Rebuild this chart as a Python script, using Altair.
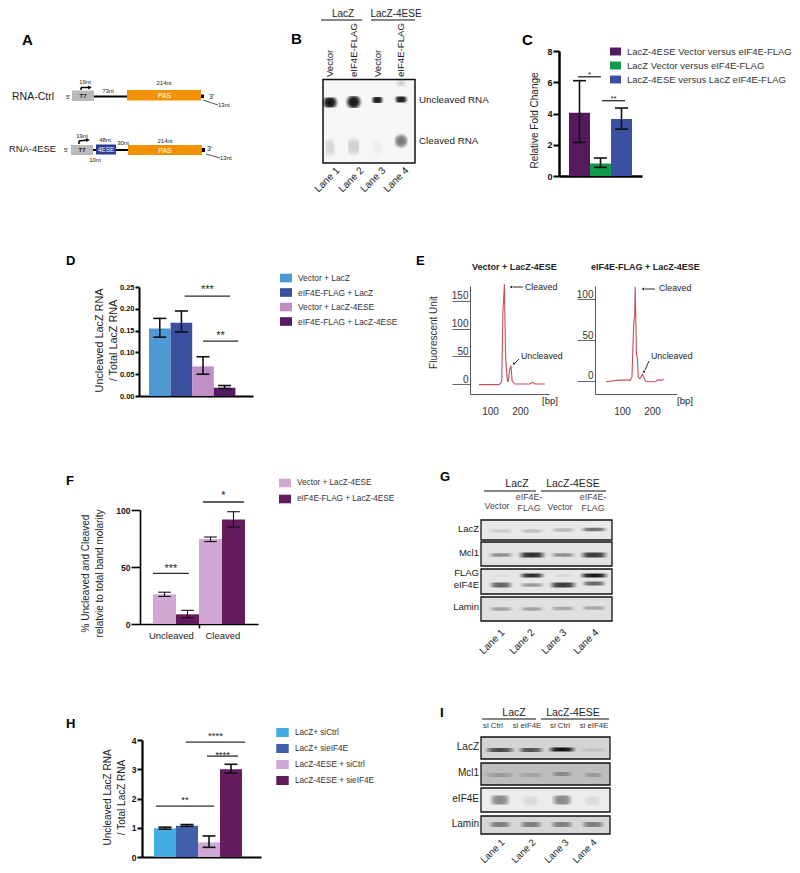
import altair as alt
import pandas as pd

W, H = 784, 857
FONT = "Liberation Sans"

# ---------- data ----------
c_names = ["LacZ-4ESE Vector versus eIF4E-FLAG", "LacZ Vector versus eIF4E-FLAG", "LacZ-4ESE versus LacZ eIF4E-FLAG"]
c_cols = ["#551a5b", "#119a4b", "#3c51a3"]
c_vals = [4.05, 0.8, 3.65]
c_lo = [2.15, 0.55, 3.0]
c_hi = [6.1, 1.15, 4.35]
c_ticks = [0, 2, 4, 6, 8]
c_sig = [(0.43, 1.52, 6.35, "*", 6.59), (1.57, 2.67, 4.82, "**", 5.06)]

d_names = ["Vector + LacZ", "eIF4E-FLAG + LacZ", "Vector + LacZ-4ESE", "eIF4E-FLAG + LacZ-4ESE"]
d_cols = ["#4f9ad4", "#3a4f9e", "#c08fc6", "#541a63"]
d_vals = [0.155, 0.168, 0.068, 0.019]
d_lo = [0.135, 0.147, 0.05, 0.017]
d_hi = [0.178, 0.195, 0.09, 0.024]
d_ticks = [0, 0.05, 0.10, 0.15, 0.20, 0.25]
d_sig = [(1.65, 3.75, 0.229, "***", 0.25), (2.5, 4.13, 0.126, "**", 0.1445)]

f_names = ["Vector + LacZ-4ESE", "eIF4E-FLAG + LacZ-4ESE"]
f_cols = ["#cfa9d4", "#641c5e"]
f_groups = ["a", "b", "a", "b"]
f_vals = [26, 8.5, 74.5, 91.7]
f_lo = [24.2, 5.5, 72.3, 85]
f_hi = [27.9, 12, 76.3, 98.5]
f_ticks = [0, 50, 100]
f_sig = [(0, 1.56, 44.4, "***", 50.9), (2.17, 3.96, 107, "*", 114.9)]
f_cat = ["Uncleaved", "Cleaved"]
f_cat_x = [0.8, 3.04]

h_names = ["LacZ+ siCtrl", "LacZ+ sieIF4E", "LacZ-4ESE + siCtrl", "LacZ-4ESE + sieIF4E"]
h_cols = ["#43ace2", "#4060ac", "#cfa9d4", "#641c5e"]
h_vals = [0.98, 1.07, 0.5, 3.0]
h_lo = [0.95, 1.05, 0.33, 2.87]
h_hi = [1.02, 1.11, 0.72, 3.17]
h_ticks = [0, 1, 2, 3, 4]
h_sig = [(1.45, 4.14, 3.93, "****", 4.24), (2.41, 3.82, 3.45, "****", 3.59), (0.09, 2.73, 1.74, "**", 2.02)]

e1_bp = [63, 130, 139, 141, 143, 148, 150, 152, 153, 158, 161, 165, 170, 174, 183, 233, 242, 250, 283]
e1_fu = [-1, -1, 4, 60, 130, 180, 110, 50, 40, 5, 5, 25, 33, 5, 0, 0, 3, 0, 0]
e2_bp = [47, 89, 128, 133, 139, 142, 144, 148, 151, 154, 159, 163, 168, 178, 189, 211, 217, 233, 239]
e2_fu = [-1, 1, 1, 5, 70, 80, 115, 32, 28, 5, 3, 5, 8, 0, -1, -1, 1, 1, 2]

# gels: lane, migration (distance from the top of the gel), band width, band height, darkness
b_band = [
    (1, 23, 17, 10, 1.0), (2, 22.5, 17, 12, 1.0), (3, 20.5, 13, 6, 0.95), (4, 20, 14, 6, 0.95),
    (1, 68, 9, 20, 0.13), (2, 67, 11, 20, 0.17), (3, 68, 9, 18, 0.04), (4, 61.5, 13, 16, 0.55), (4, 3.5, 11, 7, 0.15),
]
g_lacz = [(1, 11, 26, 3.5, 0.13), (2, 11, 26, 3.5, 0.18), (3, 10, 26, 3.5, 0.22), (4, 9.5, 28, 3.5, 0.55)]
g_mcl1 = [(1, 13, 26, 3.5, 0.4), (2, 13, 29, 5, 0.85), (3, 13, 26, 3.5, 0.4), (4, 13, 29, 5, 0.8)]
g_flag = [(2, 6.5, 27, 4, 0.85), (4, 6.5, 30, 4, 0.95), (1, 6.5, 20, 3, 0.04), (3, 6.5, 20, 3, 0.06),
          (1, 16, 25, 5, 0.6), (2, 16, 26, 3.5, 0.35), (3, 16, 29, 5, 0.8), (4, 14.5, 25, 4, 0.6)]
g_lamin = [(1, 12, 26, 3.5, 0.3), (2, 12, 26, 3.5, 0.3), (3, 11.5, 26, 3.5, 0.28), (4, 11, 26, 3.5, 0.28)]
i_lacz = [(1, 13, 31, 4, 0.7), (2, 13, 27, 4, 0.65), (3, 12.5, 29, 4, 1.0), (4, 13, 28, 3, 0.12)]
i_mcl1 = [(1, 12, 31, 4, 0.2), (2, 12, 28, 4, 0.15), (3, 11, 22, 4, 0.3), (4, 12, 22, 4, 0.2)]
i_eif = [(1, 12, 22, 9, 0.45), (2, 13, 18, 9, 0.08), (3, 12, 22, 9, 0.45), (4, 13, 18, 9, 0.08)]
i_lamin = [(1, 8.5, 24, 5, 0.45), (2, 8.5, 24, 5, 0.45), (3, 8.5, 24, 5, 0.45), (4, 8.5, 24, 5, 0.45)]

# ---------- helpers ----------
def txt(s, x, y, size=9, bold=False, color="#222222", align="left", angle=0):
    return alt.Chart().mark_text(text=s, font=FONT, fontSize=size, color=color, align=align,
                                 baseline="middle", angle=angle,
                                 fontWeight="bold" if bold else "normal").encode(
        x=alt.value(x - 8), y=alt.value(y - 8))

def box(x0, x1, y0, y1, fill, stroke=None, sw=0):
    kw = {"fill": fill}
    if stroke:
        kw.update(stroke=stroke, strokeWidth=sw)
    return alt.Chart().mark_rect(**kw).encode(x=alt.value(x0 - 8), x2=alt.value(x1 - 8),
                                              y=alt.value(y0 - 8), y2=alt.value(y1 - 8))

def seg(x0, y0, x1, y1, sw=1.0, color="#111111"):
    return alt.Chart().mark_rule(strokeWidth=sw, color=color).encode(
        x=alt.value(x0 - 8), x2=alt.value(x1 - 8), y=alt.value(y0 - 8), y2=alt.value(y1 - 8))

def head(x, y, shape="triangle-right", size=14, color="#111111"):
    return alt.Chart().mark_point(shape=shape, filled=True, size=size, color=color, opacity=1).encode(
        x=alt.value(x - 8), y=alt.value(y - 8))

BAND_FILL = {"gradient": "radial", "stops": [
    {"offset": 0, "color": "rgba(10,10,10,1)"},
    {"offset": 0.5, "color": "rgba(10,10,10,0.85)"},
    {"offset": 1, "color": "rgba(10,10,10,0)"}]}

def gel(x0, x1, y0, y1, bg, c1, sp, bands, border=1.3):
    rows = [{"lane0": l - w / 2 / sp, "lane1": l + w / 2 / sp, "m0": m - h / 2, "m1": m + h / 2, "dark": d}
            for l, m, w, h, d in bands]
    sx = alt.Scale(domain=[(x0 - c1) / sp + 1, (x1 - c1) / sp + 1], range=[x0 - 8, x1 - 8], nice=False, zero=False)
    sy = alt.Scale(domain=[0, y1 - y0], range=[y0 - 8, y1 - 8], nice=False, zero=False)
    b = alt.Chart(pd.DataFrame(rows)).mark_rect(fill=BAND_FILL).encode(
        x=alt.X("lane0:Q", scale=sx, axis=None), x2="lane1:Q",
        y=alt.Y("m0:Q", scale=sy, axis=None), y2="m1:Q",
        opacity=alt.Opacity("dark:Q", scale=None, legend=None))
    return [box(x0, x1, y0, y1, bg), b, box(x0, x1, y0, y1, "transparent", "#111111", border)]

LEG_SYM = "M-1,-0.72H1V0.72H-1Z"

def bar_panel(L, R, T, B, ymax, first, bw, names, cols, vals, lo, hi, ticks, fmt, groups=None,
              tick_size=5, label_size=8, dom_w=2.5, title=None, title_dx=-20, title_cy=100, title_size=10,
              cap_px=6.5, err_w=2, sig=(), star_size=10, sig_w=1.3, lx=0, ly=0, leg_size=8.4, row_pad=3,
              sym=12, x_ticks=None, tick_w=2):
    sx = alt.Scale(domain=[(L - first) / bw, (R - first) / bw], range=[L - 8, R - 8], nice=False, zero=False)
    sy = alt.Scale(domain=[0, ymax], range=[B - 8, T - 8], nice=False, zero=False)
    n = len(vals)
    capu = cap_px / bw
    df = pd.DataFrame({
        "k": groups if groups else names, "i0": [i for i in range(n)], "i1": [i + 1 for i in range(n)],
        "c": [i + 0.5 for i in range(n)], "c0": [i + 0.5 - capu for i in range(n)],
        "c1": [i + 0.5 + capu for i in range(n)], "v": vals, "base": [0] * n, "lo": lo, "hi": hi})
    if groups:
        df["k"] = [names[0] if g == "a" else names[1] for g in groups]
    yaxis = alt.Axis(orient="left", offset=-(L - 8), values=ticks, format=fmt, grid=False, tickSize=tick_size,
                     tickWidth=tick_w, tickColor="#000000", domainColor="#000000", domainWidth=dom_w,
                     labelFont=FONT, labelFontSize=label_size, labelFontWeight="bold", labelColor="#111111",
                     labelPadding=1, labelOverlap=False, labelBound=False,
                     title=title, titleFont=FONT, titleFontSize=title_size, titleFontWeight="normal",
                     titleColor="#222222", titleX=title_dx, titleY=title_cy - 8, titleLineHeight=13.5, titleAngle=270)
    xaxis_kw = dict(orient="bottom", offset=(B - 8) - H, grid=False, labels=False, title=None,
                    domainColor="#000000", domainWidth=dom_w, tickColor="#000000", tickWidth=1.5, tickSize=4)
    if x_ticks:
        xaxis = alt.Axis(values=x_ticks, ticks=True, **xaxis_kw)
    else:
        xaxis = alt.Axis(ticks=False, **xaxis_kw)
    bars = alt.Chart(df).mark_rect().encode(
        x=alt.X("i0:Q", scale=sx, axis=xaxis), x2="i1:Q",
        y=alt.Y("v:Q", scale=sy, axis=yaxis), y2="base:Q",
        color=alt.Color("k:N", scale=alt.Scale(domain=names, range=cols),
                        legend=alt.Legend(orient="none", legendX=lx - 8, legendY=ly - 8, title=None,
                                          symbolType=LEG_SYM, symbolSize=sym * sym, symbolStrokeWidth=0,
                                          symbolOpacity=1, labelFont=FONT, labelFontSize=leg_size,
                                          labelColor="#333333", rowPadding=row_pad, labelOffset=6, labelLimit=400)))
    X = lambda f: alt.X(f, scale=sx, axis=None)
    Y = lambda f: alt.Y(f, scale=sy, axis=None)
    ev = alt.Chart(df).mark_rule(color="#111111", strokeWidth=err_w).encode(x=X("c:Q"), y=Y("lo:Q"), y2="hi:Q")
    ct = alt.Chart(df).mark_rule(color="#111111", strokeWidth=err_w).encode(x=X("c0:Q"), x2="c1:Q", y=Y("hi:Q"))
    cb = alt.Chart(df).mark_rule(color="#111111", strokeWidth=err_w).encode(x=X("c0:Q"), x2="c1:Q", y=Y("lo:Q"))
    sg = pd.DataFrame([{"a": a, "b": b, "y": y, "s": s, "m": (a + b) / 2, "sy": sy_} for a, b, y, s, sy_ in sig])
    rl = alt.Chart(sg).mark_rule(color="#2a2a2a", strokeWidth=sig_w).encode(x=X("a:Q"), x2="b:Q", y=Y("y:Q"))
    st = alt.Chart(sg).mark_text(font=FONT, fontSize=star_size, color="#222222", dy=star_size * 0.27).encode(
        x=X("m:Q"), y=Y("sy:Q"), text="s:N")
    return [bars, ev, ct, cb, rl, st], sx

def trace_panel(L, R, T, B, xdom, ydom, bp, fu, yticks, title=None, title_dx=-30, title_cy=330):
    sx = alt.Scale(domain=xdom, range=[L - 8, R - 8], nice=False, zero=False)
    sy = alt.Scale(domain=ydom, range=[B - 8, T - 8], nice=False, zero=False)
    yax = alt.Axis(orient="left", offset=-(L - 8), values=yticks, grid=False, tickSize=18, tickWidth=1,
                   tickColor="#666666", domainColor="#555555", domainWidth=1, labelFont=FONT, labelFontSize=10,
                   labelBaseline="bottom", labelPadding=-16, labelColor="#333333", labelOverlap=False,
                   labelBound=False, title=title, titleFont=FONT, titleFontSize=10, titleFontWeight="normal",
                   titleColor="#333333", titleX=title_dx, titleY=title_cy - 8, titleAngle=270)
    xax = alt.Axis(orient="bottom", offset=(B - 8) - H, values=[100, 200], grid=False, ticks=False,
                   domainColor="#555555", domainWidth=1, labelFont=FONT, labelFontSize=10, labelPadding=12,
                   labelColor="#333333", labelOverlap=False, labelBound=False, title=None)
    return alt.Chart(pd.DataFrame({"bp": bp, "fu": fu})).mark_line(color="#c4505a", strokeWidth=1.1).encode(
        x=alt.X("bp:Q", scale=sx, axis=xax), y=alt.Y("fu:Q", scale=sy, axis=yax))

panels = []

# ---------- panel A ----------
panels += [txt("A", 22, 40, 15, True, "#000000"),
     txt("RNA-Ctrl", 12, 97, 10.5), txt("5'", 66, 97, 6),
     seg(94, 96.5, 127, 96.5, 2, "#000000"), box(72, 94, 90.5, 101, "#b9b9b9"), txt("T7", 83, 96, 6, True, align="center"),
     box(127, 201, 90, 100.5, "#f39200"), txt("PAS", 164.5, 96, 7, False, "#ffffff", "center"),
     box(201, 204, 94.5, 98, "#000000"), txt("3'", 209, 96.5, 7), seg(203, 100, 218, 105, 0.7),
     txt("13nt", 218, 105, 6), txt("19nt", 85, 82, 6, align="center"), txt("73nt", 108, 91, 6, align="center"),
     txt("214nt", 164, 83, 6, align="center"),
     seg(81, 90, 81, 87.5, 1.5, "#000000"), seg(81, 87.5, 89, 87.5, 1.5, "#000000"), head(90, 87.5, size=16, color="#000000"),
     txt("RNA-4ESE", 9, 149, 9.4), txt("5'", 64, 149.5, 6),
     seg(93, 150, 96, 150, 2, "#000000"), seg(116, 150, 128, 150, 2, "#000000"),
     box(71, 93, 145, 155, "#b9b9b9"), txt("T7", 82, 150, 6, True, align="center"),
     box(96, 116, 144.5, 154.5, "#2e3a96"), txt("4ESE", 106, 150, 6.5, False, "#ffffff", "center"),
     box(128, 202, 145, 155, "#f39200"), txt("PAS", 165, 151, 7, False, "#ffffff", "center"),
     box(202, 205, 148, 152, "#000000"), txt("3'", 207, 149, 7), seg(206, 154, 220, 158, 0.7),
     txt("13nt", 220, 158, 6), txt("19nt", 82, 136, 6, align="center"), txt("48nt", 105, 140, 6, align="center"),
     txt("30nt", 123, 143, 6, align="center"), txt("214nt", 165, 141, 6, align="center"), txt("10nt", 95, 160, 6, align="center"),
     seg(79, 144, 79, 141, 1.5, "#000000"), seg(79, 141, 87, 140, 1.5, "#000000"), head(88, 140, size=16, color="#000000")]

# ---------- panel B ----------
panels += gel(323, 415, 79.5, 163, "#f6f6f6", 330, 23.7, b_band, 1.5)
panels += [txt("B", 291, 39, 15, True, "#000000"),
           txt("LacZ", 343, 13.5, 10, align="center"), txt("LacZ-4ESE", 396, 13.5, 10, align="center"),
           seg(321, 20, 362, 20, 1), seg(371, 20, 415, 20, 1)]
for x_, s_ in zip([330, 354, 378, 401], ["Vector", "eIF4E-FLAG", "Vector", "eIF4E-FLAG"]):
    panels.append(txt(s_, x_, 77, 9.6, align="left", angle=270))
for x_, s_ in zip([338, 362, 384, 407], ["Lane 1", "Lane 2", "Lane 3", "Lane 4"]):
    panels.append(txt(s_, x_, 169, 10, align="right", angle=315))
panels += [txt("Uncleaved RNA", 419, 100, 9.8), txt("Cleaved RNA", 419, 141, 9.8)]

# ---------- panel C ----------
c, _ = bar_panel(559, 642, 51, 176, 8, 569, 21, c_names, c_cols, c_vals, c_lo, c_hi, c_ticks, "d",
                 tick_size=6, label_size=9, dom_w=2.5, title="Relative Fold Change", title_dx=-20, title_cy=120,
                 title_size=10, cap_px=6.5, err_w=1.6, sig=c_sig, star_size=8, lx=610, ly=46, leg_size=9.5,
                 row_pad=4, sym=11)
panels += c
panels.append(txt("C", 522, 40, 15, True, "#000000"))

# ---------- panel D ----------
d, _ = bar_panel(139, 253, 287, 396, 0.25, 149, 21.6, d_names, d_cols, d_vals, d_lo, d_hi, d_ticks, ".2f",
                 tick_size=4, label_size=7.5, dom_w=2, title=["Uncleaved LacZ RNA", "/ Total LacZ RNA"],
                 title_dx=-34.5, title_cy=340, title_size=10.8, cap_px=6.5, err_w=1.6, sig=d_sig, star_size=11,
                 lx=280, ly=272, leg_size=8.4, row_pad=3.5, sym=12)
panels += d
panels.append(txt("D", 66, 261, 13, True, "#000000"))

# ---------- panel E ----------
panels.append(trace_panel(470, 549, 286, 394, [33.3, 296.7], [-18, 177], e1_bp, e1_fu, [0, 50, 100, 150],
                          "Fluorescent Unit", -32, 332))
panels.append(trace_panel(595, 677, 286, 394, [10, 283], [-15.9, 115.9], e2_bp, e2_fu, [0, 50, 100]))
panels += [txt("E", 416, 261, 13, True, "#000000"),
           txt("Vector + LacZ-4ESE", 472, 267, 9, True), txt("eIF4E-FLAG + LacZ-4ESE", 591, 267, 9, True),
           txt("[bp]", 542, 401, 9.5), txt("[bp]", 677, 401, 9.5),
           seg(513, 287, 523, 287, 0.9), head(511, 287, "triangle-left", 8), txt("Cleaved", 525, 287, 8.8),
           seg(645, 289, 655, 289, 0.9), head(643, 289, "triangle-left", 8), txt("Cleaved", 659, 288, 8.8),
           txt("Uncleaved", 521, 356, 8.8), seg(519, 359, 515, 363, 0.9), head(514, 364, "triangle-down", 8),
           txt("Uncleaved", 651, 356, 8.8), seg(649, 361, 645, 370, 0.9), head(644, 372, "triangle-down", 8)]

# ---------- panel F ----------
f, fx = bar_panel(140, 258, 510, 624, 100, 153, 23, f_names, f_cols, f_vals, f_lo, f_hi, f_ticks, "d", groups=f_groups,
                  tick_size=9, label_size=8.5, dom_w=1.6, title=["% Uncleaved and Cleaved", "relatvie to total band molarity"],
                  title_dx=-49.5, title_cy=573, title_size=10, cap_px=6.3, err_w=1.1, sig=f_sig, star_size=11,
                  lx=279, ly=477, leg_size=8.2, row_pad=5, sym=12, x_ticks=[2], tick_w=1.6)
f_lab = alt.Chart(pd.DataFrame({"t": f_cat, "x": f_cat_x})).mark_text(font=FONT, fontSize=9.5, color="#222222").encode(
    x=alt.X("x:Q", scale=fx, axis=None), y=alt.value(636 - 8), text="t:N")
panels += f + [f_lab]
panels.append(txt("F", 66, 481, 13, True, "#000000"))

# ---------- panel G ----------
panels += (gel(481, 612, 520, 540, "#e8e8e8", 501, 31, g_lacz) + gel(481, 612, 542, 566, "#e2e2e2", 501, 31, g_mcl1)
           + gel(481, 612, 569, 594, "#e6e6e6", 501, 31, g_flag) + gel(481, 612, 597, 621, "#e0e0e0", 501, 31, g_lamin))
panels += [txt("G", 440, 477, 13, True, "#000000"),
           txt("LacZ", 517, 484, 10.5, align="center"), txt("LacZ-4ESE", 573, 484, 10.5, align="center"),
           seg(484, 491, 536, 491, 1), seg(541, 491, 606, 491, 1),
           txt("Vector", 497, 506, 8.8, color="#444444", align="center"), txt("eIF4E-", 529, 497, 8.8, color="#444444", align="center"),
           txt("FLAG", 529, 508, 8.8, color="#444444", align="center"), txt("Vector", 560, 507, 8.8, color="#444444", align="center"),
           txt("eIF4E-", 593, 497, 8.8, color="#444444", align="center"), txt("FLAG", 593, 508, 8.8, color="#444444", align="center"),
           txt("LacZ", 479, 529, 9.5, align="right"), txt("Mcl1", 479, 553, 9.5, align="right"),
           txt("FLAG", 479, 573, 9.5, align="right"), txt("eIF4E", 479, 585, 9.5, align="right"), txt("Lamin", 479, 607, 9.5, align="right")]
for x_, s_ in zip([503, 533, 565, 597], ["Lane 1", "Lane 2", "Lane 3", "Lane 4"]):
    panels.append(txt(s_, x_, 631, 10, align="right", angle=315))

# ---------- panel H ----------
h, _ = bar_panel(142, 261, 740, 857, 4, 154, 22, h_names, h_cols, h_vals, h_lo, h_hi, h_ticks, "d",
                 tick_size=5, label_size=8.5, dom_w=2.2, title=["Uncleaved LacZ RNA", "/ Total LacZ RNA"],
                 title_dx=-29.5, title_cy=797, title_size=10, cap_px=6.5, err_w=1.6, sig=h_sig, star_size=9.5,
                 lx=276, ly=726, leg_size=8.2, row_pad=5, sym=12.5)
panels += h
panels.append(txt("H", 66, 724, 13, True, "#000000"))

# ---------- panel I ----------
panels += (gel(481, 610, 737, 759, "#d4d4d4", 500, 31, i_lacz) + gel(481, 610, 763, 785, "#bdbdbd", 500, 31, i_mcl1)
           + gel(481, 610, 788, 812, "#ececec", 500, 31, i_eif) + gel(481, 610, 816, 834, "#d6d6d6", 500, 31, i_lamin))
panels += [txt("I", 440, 713, 13, True, "#000000"),
           txt("LacZ", 514, 713, 10.5, align="center"), txt("LacZ-4ESE", 573, 713, 10.5, align="center"),
           seg(482, 719, 536, 719, 1), seg(541, 719, 609, 719, 1),
           txt("si Ctrl", 493, 726, 7.8, color="#333333", align="center"), txt("si eIF4E", 527, 726, 7.8, color="#333333", align="center"),
           txt("si Ctrl", 560, 726, 7.8, color="#333333", align="center"), txt("si eIF4E", 594, 726, 7.8, color="#333333", align="center"),
           txt("LacZ", 479, 747, 10, align="right"), txt("Mcl1", 479, 773, 10, align="right"),
           txt("eIF4E", 479, 799, 10, align="right"), txt("Lamin", 479, 824, 10, align="right")]
for x_, s_ in zip([503, 534, 567, 595], ["Lane 1", "Lane 2", "Lane 3", "Lane 4"]):
    panels.append(txt(s_, x_, 841, 9.5, align="right", angle=315))

chart = alt.layer(*panels).resolve_scale(
    x="independent", y="independent", color="independent"
).resolve_axis(x="independent", y="independent").resolve_legend(color="independent").properties(
    width=W, height=H, padding=0, autosize=alt.AutoSizeParams(type="none"), background="#ffffff"
).configure_view(stroke=None)

chart.save("out.html", embed_options={"renderer": "svg", "actions": False})
